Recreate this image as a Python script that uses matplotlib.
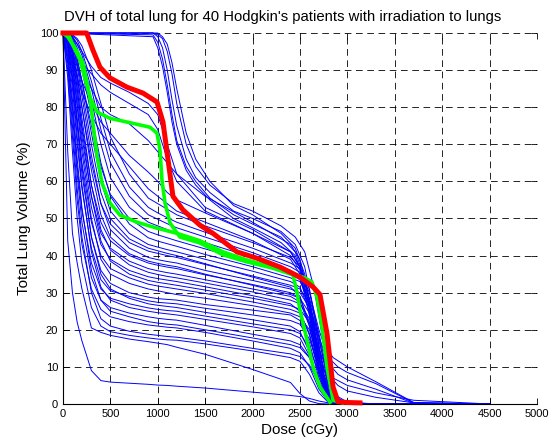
import matplotlib
matplotlib.use("Agg")
import matplotlib.pyplot as plt

plt.rcParams["font.family"] = ["Liberation Sans", "DejaVu Sans"]

dose_grid = [0, 50, 100, 150, 200, 300, 400, 500, 700, 900, 1000, 1100, 1200,
             1500, 2000, 2400, 2500, 2600, 2700, 2800, 2900, 3000, 3300, 3700, 4500]

# total lung volume (%) of the patients whose DVH falls from the start, read at dose_grid
blue_volumes = [
    [100, 44, 30, 22, 17, 9, 6.3, 5.9, 5.6, 5.3, 5.1, 5.0, 4.8, 4.3, 3.2, 2.3, 2.0, 1.5, 0.8, 0.3, 0, 0, 0, 0, 0],
    [100, 68, 46, 38, 31, 20.5, 19.3, 18.5, 17.5, 16.8, 16.4, 16, 15.3, 13.4, 9.3, 5.8, 2.8, 0.8, 0.1, 0, 0, 0, 0, 0, 0],
    [100, 88, 68, 50, 38, 26, 21, 19.5, 18.5, 17.8, 17.5, 17.3, 17.2, 16.2, 14.3, 12.5, 11.5, 8, 3, 0.4, 0, 0, 0, 0, 0],
    [100, 92, 75, 58, 45, 30, 23, 21, 19.6, 18.8, 18.5, 18.2, 18, 17, 15, 13.5, 12.8, 10.5, 5.5, 1.2, 0.1, 0, 0, 0, 0],
    [100, 90, 72, 55, 43, 31, 25.5, 23.5, 22.2, 21.3, 21, 20.7, 20.5, 19.3, 17, 15, 13.8, 10, 4, 0.6, 0, 0, 0, 0, 0],
    [100, 95, 82, 66, 53, 36, 28, 25, 23.5, 22.2, 21.8, 21.5, 21.3, 20, 17.8, 16, 15.2, 12.5, 7, 2, 0.3, 0, 0, 0, 0],
    [100, 93, 78, 62, 49, 34, 28, 26, 24.5, 23.5, 23.1, 22.8, 22.6, 21.2, 18.8, 17, 16, 12.5, 6, 1.2, 0.1, 0, 0, 0, 0],
    [100, 97, 87, 72, 59, 41, 31.5, 28, 26, 25, 24.6, 24.3, 24, 22.8, 20.8, 19, 17.8, 13, 5.5, 1, 0, 0, 0, 0, 0],
    [100, 94, 80, 64, 52, 38, 31, 28.5, 27, 25.9, 25.5, 25.2, 25, 23.7, 21.6, 20, 19, 15, 8.5, 3, 1, 0.3, 0, 0, 0],
    [100, 98, 90, 77, 64, 45, 35, 31, 28.5, 27, 26.6, 26.3, 26, 24.7, 22.7, 21, 19.5, 14, 6, 1.5, 0.2, 0, 0, 0, 0],
    [100, 96, 85, 70, 58, 42, 33.5, 30.5, 29, 27.8, 27.4, 27.2, 27, 25.8, 24, 22.5, 21.5, 17.5, 10, 3.5, 0.8, 0, 0, 0, 0],
    [100, 97, 88, 75, 62, 45, 36, 32.5, 30, 28.8, 28.4, 28.2, 28, 26.8, 25.3, 24, 22.5, 16.5, 7, 1.5, 0.2, 0, 0, 0, 0],
    [100, 98, 91, 80, 68, 50, 39, 35, 32.5, 31, 30.5, 30, 29.5, 28.5, 26.5, 24.5, 23.5, 20, 12, 4, 1, 0.2, 0, 0, 0],
    [100, 97, 88, 76, 65, 49, 40, 36.5, 34, 32.3, 31.8, 31.4, 31, 29.8, 27.5, 25.5, 24.5, 19, 9, 2, 0.3, 0, 0, 0, 0],
    [100, 99, 94, 85, 74, 56, 44, 38.5, 35, 33.3, 32.8, 32.4, 32, 30.7, 28.5, 26.5, 25.5, 22, 14, 5, 1.5, 0.4, 0, 0, 0],
    [100, 98, 92, 81, 70, 53, 43, 39, 36, 34.3, 33.8, 33.4, 33, 31.6, 29.2, 27, 25, 18.5, 8, 1.5, 0.2, 0, 0, 0, 0],
    [100, 99, 95, 87, 77, 59, 47, 41.5, 37.5, 35.5, 34.9, 34.4, 34, 32.6, 30.2, 28, 27, 23, 15, 8, 5, 3.5, 1.8, 0.3, 0],
    [100, 98, 93, 83, 72, 56, 46, 42, 38.5, 36.5, 35.9, 35.4, 35, 33.5, 31, 29, 27.5, 21, 10, 2.5, 0.4, 0, 0, 0, 0],
    [100, 99, 96, 89, 80, 63, 51, 45, 40.5, 38.5, 37.9, 37.4, 37, 35, 32, 29.5, 28.5, 24.5, 15, 5, 1, 0.2, 0, 0, 0],
    [100, 99, 94, 85, 75, 59, 49, 44, 40, 38, 37.4, 36.9, 36.5, 34.8, 32.2, 30, 28.5, 22, 11, 3, 0.5, 0, 0, 0, 0],
    [100, 99.5, 97, 91, 83, 67, 54, 47, 42, 39.5, 38.9, 38.4, 38, 36, 33.3, 31, 30, 26, 17, 7, 2, 0.5, 0, 0, 0],
    [100, 99.5, 97, 92, 85, 70, 57, 50, 44.5, 42, 41.3, 40.6, 40, 37.8, 34.2, 31.5, 29, 21, 9, 1.8, 0.2, 0, 0, 0, 0],
    [100, 99, 95, 88, 80, 65, 54, 48.5, 43.5, 41.2, 40.6, 40, 39.5, 37.6, 34.5, 32, 31, 27, 18, 11, 8, 6.5, 4, 0.2, 0],
    [100, 99.5, 98, 93, 87, 73, 60, 52, 46, 43, 42.3, 41.6, 41, 39, 35.8, 33, 31.5, 25, 12, 3, 0.5, 0, 0, 0, 0],
    [100, 100, 98.5, 95, 90, 78, 65, 56, 48.5, 44.8, 43.9, 43.2, 42.5, 40.3, 37, 34, 33, 28.5, 19, 7, 1.5, 0.3, 0, 0, 0],
    [100, 99.5, 97.5, 93, 87, 75, 64, 56.5, 50, 46.5, 45.6, 44.8, 44, 41.8, 38.2, 35, 33.5, 26, 12, 3, 0.5, 0, 0, 0, 0],
    [100, 100, 99, 96, 92, 82, 70, 61, 53, 49, 48, 47, 46, 43.5, 39.5, 36, 34.5, 27, 13, 3.5, 0.5, 0, 0, 0, 0],
    [100, 100, 99, 97, 94, 85, 74, 65, 56, 51, 49.8, 48.6, 47.5, 45, 40.8, 37, 35.5, 30, 20, 12.5, 10, 8.5, 5.5, 0.3, 0],
    [100, 100, 99.5, 98, 95, 87, 77, 68, 58.5, 53, 51.5, 50.2, 49, 46.3, 42, 38, 36.5, 31, 18, 5, 1, 0.2, 0, 0, 0],
    [100, 100, 99.5, 98.5, 96.5, 90, 81, 72, 62, 55.5, 54, 52.5, 51, 48, 43.5, 39.5, 37, 28, 12, 2.5, 0.3, 0, 0, 0, 0],
    [100, 100, 99, 97, 95, 91, 88, 86.5, 84, 81, 78, 70, 62, 53, 47, 41, 37, 26, 10, 2, 0, 0, 0, 0, 0],
    [100, 99.5, 98, 95, 92, 89, 86, 84, 81, 78, 74, 66, 60, 52, 46, 40, 36, 24, 8, 1.5, 0, 0, 0, 0, 0],
    [100, 99, 97, 94, 90, 85, 80, 78, 75.5, 71, 68, 65, 62, 56, 49, 43, 39, 28, 12, 3, 0.5, 0, 0, 0, 0],
    [100, 98, 95, 91, 87, 81, 76, 73, 67, 62.5, 60, 57, 55, 51.5, 46, 41, 37, 26, 10, 2, 0, 0, 0, 0, 0],
    [100, 97, 93, 88, 84, 78, 73, 70, 64, 58, 56, 54, 52, 49, 44, 39, 35, 24, 9, 2, 0, 0, 0, 0, 0],
]

# patients whose whole lung gets ~1000 cGy before the DVH starts to fall
late_dose_grid = [0, 950, 1000, 1050, 1100, 1150, 1200, 1300, 1400, 1550, 1800,
                  2000, 2300, 2450, 2550, 2650, 2750, 2850, 3000, 3300, 3700, 4500]
late_volumes = [
    [100, 100, 99, 96, 90, 82, 75, 66, 61, 57, 52, 50, 46.5, 43, 37, 24, 8, 1.5, 0, 0, 0, 0],
    [100, 99.5, 97.5, 93, 86, 78, 71, 64, 60, 55.5, 51, 48.5, 45, 41, 34, 20, 6, 1, 0, 0, 0, 0],
    [100, 100, 99.5, 98.5, 95, 89, 81, 70, 64, 59, 54, 52, 48, 45, 41, 31, 16, 12.5, 10, 6, 0.4, 0],
    [100, 100, 100, 99, 97, 92, 85, 73, 66, 60, 53.5, 51, 46, 42, 35, 21, 6, 1, 0, 0, 0, 0],
    [100, 99, 96, 91, 84, 76, 70, 63, 59, 55, 50, 47.5, 43.5, 40, 33, 22, 9, 7, 5, 3, 1, 0],
]

red_dose = [0, 250, 316, 390, 496, 675, 844, 992, 1055, 1097, 1160, 1266, 1445, 1582,
            1835, 2046, 2290, 2500, 2640, 2711, 2785, 2849, 2901, 3000, 3133]
red_volume = [100, 100, 95.4, 90.8, 87.9, 85.4, 83.8, 81.4, 76, 68, 56, 52.3, 48.2, 46,
              41, 39.3, 36.9, 34.2, 31.5, 29.5, 19, 4.6, 0.6, 0.4, 0.3]

green_a_dose = [0, 60, 100, 180, 285, 360, 496, 675, 918, 992, 1023, 1044, 1076, 1129,
                1181, 1234, 1445, 1688, 1941, 2215, 2426, 2469, 2500, 2574, 2637, 2711, 2817]
green_a_volume = [100, 99.5, 97, 92.7, 82.7, 78.7, 77, 76, 74.6, 73, 68.5, 60.4, 54.2, 48.8,
                  46.9, 45, 43.4, 40.2, 38.3, 36.6, 34.8, 30, 25.3, 17.2, 10, 4.6, 0.5]

green_b_dose = [0, 50, 100, 150, 211, 285, 316, 359, 411, 496, 601, 780, 992, 1202, 1445,
                1688, 1941, 2215, 2400, 2550, 2626, 2680, 2732, 2785, 2849, 2950]
green_b_volume = [100, 99, 97, 95, 91.9, 82.7, 75.7, 67, 59.6, 54.2, 50.9, 49, 47.4, 46, 44,
                  41, 38.8, 36.8, 35.3, 34, 32.9, 28.8, 20.7, 10, 1, 0.3]

x_ticks = list(range(0, 5001, 500))
y_ticks = list(range(0, 101, 10))

fig = plt.figure(figsize=(5.5, 4.46), dpi=100)
ax = fig.add_axes([0.1145, 0.0942, 0.8618, 0.8318])

for vol in blue_volumes:
    ax.plot(dose_grid, vol, color="#0000ff", linewidth=0.7, clip_on=False, zorder=2)
for vol in late_volumes:
    ax.plot(late_dose_grid, vol, color="#0000ff", linewidth=0.7, clip_on=False, zorder=2)

ax.plot(green_a_dose, green_a_volume, color="#00ff00", linewidth=2.6, clip_on=False, zorder=3)
ax.plot(green_b_dose, green_b_volume, color="#00ff00", linewidth=2.6, clip_on=False, zorder=3)
ax.plot(red_dose, red_volume, color="#ff0000", linewidth=3.6, clip_on=False, zorder=4)

ax.set_xlim(0, 5000)
ax.set_ylim(0, 100)
ax.set_xticks(x_ticks)
ax.set_yticks(y_ticks)
ax.tick_params(direction="in", length=4, width=0.6, labelsize=8,
               top=True, right=True, colors="black")
ax.grid(True, color="black", linestyle=(0, (8, 5.5)), linewidth=0.6)
ax.set_axisbelow(True)
for side in ["top", "right"]:
    ax.spines[side].set_visible(False)
for side in ["left", "bottom"]:
    ax.spines[side].set_linewidth(0.8)

ax.set_title("DVH of total lung for 40 Hodgkin's patients with irradiation to lungs",
             fontsize=10.7, pad=9, x=0.463)
ax.set_xlabel("Dose (cGy)", fontsize=11, labelpad=3)
ax.set_ylabel("Total Lung Volume (%)", fontsize=11, labelpad=6)

fig.savefig("out.png", dpi=100)
